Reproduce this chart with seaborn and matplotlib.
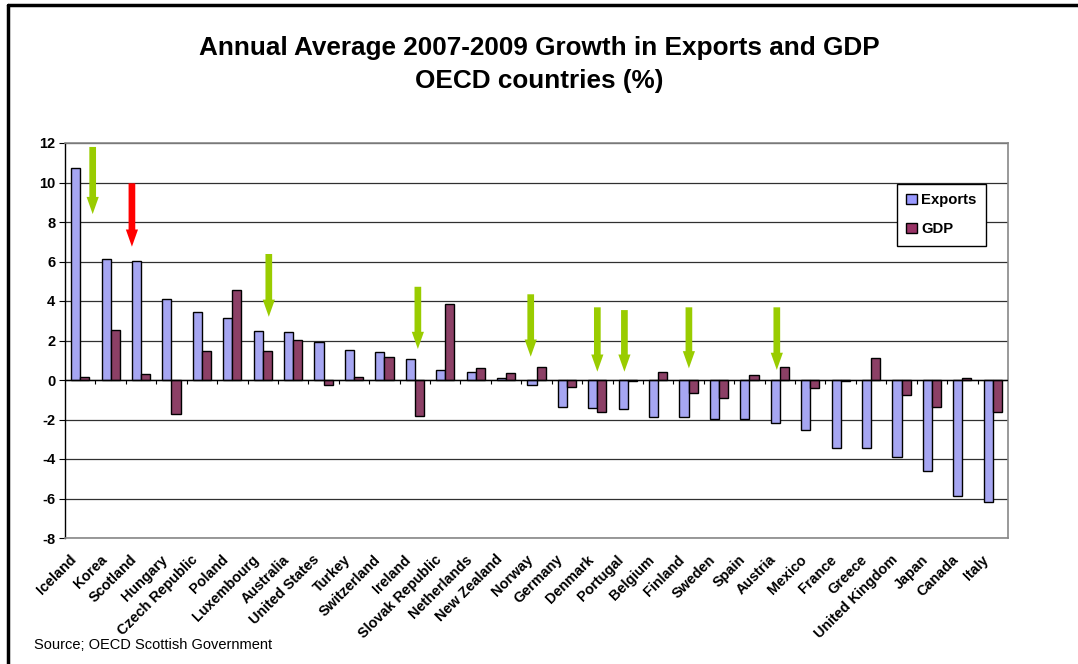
import numpy as np
import pandas as pd
import matplotlib
matplotlib.use("Agg")
import matplotlib.pyplot as plt
import matplotlib.transforms as mtransforms
import seaborn as sns
from matplotlib.patches import Patch

countries = ["Iceland", "Korea", "Scotland", "Hungary", "Czech Republic", "Poland",
             "Luxembourg", "Australia", "United States", "Turkey", "Switzerland",
             "Ireland", "Slovak Republic", "Netherlands", "New Zealand", "Norway",
             "Germany", "Denmark", "Portugal", "Belgium", "Finland", "Sweden", "Spain",
             "Austria", "Mexico", "France", "Greece", "United Kingdom", "Japan",
             "Canada", "Italy"]

exports = [10.73, 6.15, 6.02, 4.12, 3.45, 3.12, 2.5, 2.45, 1.92, 1.52, 1.41,
           1.06, 0.51, 0.42, 0.08, -0.25, -1.35, -1.4, -1.47, -1.86, -1.89,
           -1.99, -1.99, -2.19, -2.53, -3.46, -3.46, -3.9, -4.62, -5.87, -6.16]
gdp = [0.15, 2.53, 0.3, -1.7, 1.48, 4.55, 1.48, 2.02, -0.25, 0.17, 1.18,
       -1.82, 3.85, 0.62, 0.37, 0.68, -0.37, -1.6, -0.03, 0.39, -0.68,
       -0.9, 0.24, 0.68, -0.39, -0.03, 1.11, -0.76, -1.35, 0.08, -1.64]

# annotation arrows (category position, start value, tip value, colour)
arrow_x = [0.41, 1.70, 6.20, 11.10, 14.81, 17.00, 17.89, 20.01, 22.90]
arrow_top = [11.8, 9.96, 6.38, 4.72, 4.34, 3.68, 3.54, 3.68, 3.68]
arrow_tip = [8.4, 6.75, 3.2, 1.57, 1.18, 0.42, 0.42, 0.59, 0.51]
arrow_col = ["#99CC00", "#FF0000", "#99CC00", "#99CC00", "#99CC00", "#99CC00",
             "#99CC00", "#99CC00", "#99CC00"]

yticks = [-8, -6, -4, -2, 0, 2, 4, 6, 8, 10, 12]

n = len(countries)
df = pd.DataFrame({
    "country": countries * 2,
    "series": ["Exports"] * n + ["GDP"] * n,
    "value": exports + gdp,
})

sns.set_style("white")
plt.rcParams["font.family"] = ["Liberation Sans", "DejaVu Sans"]
plt.rcParams["text.color"] = "black"
plt.rcParams["xtick.color"] = "black"
plt.rcParams["ytick.color"] = "black"

fig = plt.figure(figsize=(10.78, 6.64), dpi=100)
ax = fig.add_axes([65 / 1078, 1 - 538 / 664, 943 / 1078, 395 / 664])

colors = ["#9999FF", "#993366"]
sns.barplot(data=df, x="country", y="value", hue="series", palette=colors,
            width=0.6, edgecolor="black", linewidth=1.0, ax=ax, legend=False,
            zorder=3)

ax.set_ylim(-8, 12)
ax.set_xlim(-0.5, n - 0.5)
ax.set_yticks(yticks)
ax.set_yticklabels([str(v) for v in yticks], fontweight="bold", fontsize=10.5)
ax.yaxis.grid(True, color="#303030", linewidth=0.9, zorder=0)
ax.set_axisbelow(True)
ax.tick_params(axis="y", direction="out", length=4, width=0.8, color="black",
               pad=3, left=True)
ax.tick_params(axis="x", length=0, pad=14)
ax.set_xticks(range(n))
ax.set_xticklabels(countries, rotation=45, ha="right", va="center",
                   rotation_mode="anchor", fontweight="bold", fontsize=10.4)
shift = mtransforms.ScaledTranslation(-0.06, 0, fig.dpi_scale_trans)
for lab in ax.get_xticklabels():
    lab.set_transform(lab.get_transform() + shift)
ax.set_xlabel("")
ax.set_ylabel("")

for s in ["top", "right", "bottom"]:
    ax.spines[s].set_color("#888888")
    ax.spines[s].set_linewidth(1.2)
ax.spines["left"].set_color("black")
ax.spines["left"].set_linewidth(1.0)

# zero axis with category-boundary ticks
ax.axhline(0, color="black", linewidth=1.0, zorder=4)
ax.vlines(np.arange(n - 1) + 0.5, -0.2, 0, color="black", linewidth=0.8, zorder=4)

for x, t, b, c in zip(arrow_x, arrow_top, arrow_tip, arrow_col):
    ax.arrow(x, t, 0, b - t, width=0.22, head_width=0.40, head_length=0.87,
             length_includes_head=True, color=c, zorder=5, linewidth=0)

handles = [Patch(facecolor=colors[0], edgecolor="black", label="Exports"),
           Patch(facecolor=colors[1], edgecolor="black", label="GDP")]
leg = ax.legend(handles=handles, loc="upper left", bbox_to_anchor=(0.882, 0.897),
                frameon=True, fancybox=False, edgecolor="black", framealpha=1,
                prop={"weight": "bold", "size": 10.7}, handlelength=0.7,
                handleheight=0.7, handletextpad=0.3, labelspacing=1.0,
                borderpad=0.65, borderaxespad=0)
leg.get_frame().set_linewidth(1.0)

fig.text(0.5, 1 - 48 / 664, "Annual Average 2007-2009 Growth in Exports and GDP",
         ha="center", va="center", fontsize=18.8, fontweight="bold")
fig.text(0.5, 1 - 81 / 664, "OECD countries (%)",
         ha="center", va="center", fontsize=18.8, fontweight="bold")
fig.text(34 / 1078, 1 - 645 / 664, "Source; OECD Scottish Government",
         ha="left", va="center", fontsize=10.5)

# outer frame (top and left edges)
fig.add_artist(plt.Line2D([8 / 1078, 8 / 1078], [0, 1 - 5 / 664],
                          transform=fig.transFigure, color="black", linewidth=2.5))
fig.add_artist(plt.Line2D([8 / 1078, 1], [1 - 5 / 664, 1 - 5 / 664],
                          transform=fig.transFigure, color="black", linewidth=2.5))

fig.savefig("out.png", dpi=100)
